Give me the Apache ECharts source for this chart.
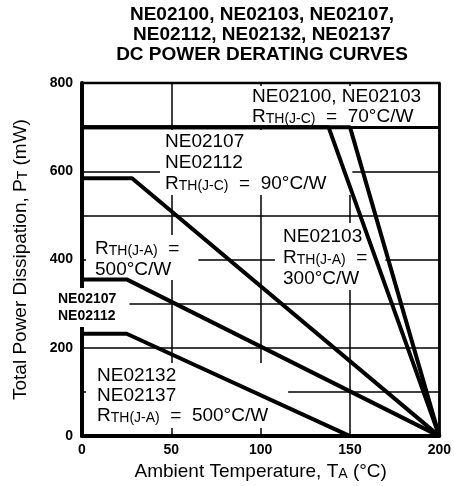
<!DOCTYPE html>
<html>
<head>
<meta charset="UTF-8">
<title>DC Power Derating Curves</title>
<script src="https://cdn.jsdelivr.net/npm/echarts@6/dist/echarts.min.js"></script>
<style>
  html, body { margin: 0; padding: 0; background: #fff; }
  #main { width: 454px; height: 486px; }
</style>
</head>
<body>
<div id="main"></div>
<script>
// breakpoints: [ambient temp (°C), power (mW)]
var ne02100Left  = [[0, 700], [138, 700], [200, 0]];
var ne02100Right = [[0, 700], [150, 700], [200, 0]];
var ne02107Case  = [[0, 584], [28, 584], [200, 0]];
var ne02107Amb   = [[0, 355], [25, 355], [200, 0]];
var ne02132Amb   = [[0, 232], [25, 232], [150, 0]];

var xTicks = [0, 50, 100, 150, 200];
var yTicks = [0, 200, 400, 600, 800];
var titleLines = ['NE02100, NE02103, NE02107,', 'NE02112, NE02132, NE02137', 'DC POWER DERATING CURVES'];

var FONT = '"Liberation Sans", Arial, Helvetica, sans-serif';
var myChart = echarts.init(document.getElementById('main'));

var rich = {
  n: { fontSize: 19, fontFamily: FONT, fill: '#000', verticalAlign: 'bottom' },
  s: { fontSize: 14, fontFamily: FONT, fill: '#000', verticalAlign: 'bottom' },
  b: { fontSize: 14, fontFamily: FONT, fill: '#000', fontWeight: 'bold' }
};

// "RTH(J-x) = ..." with the small caps part
function rth(sub, rest) {
  return '{n|R}{s|TH(' + sub + ')}{n|  =' + (rest ? '  ' + rest : '') + '}';
}

// text block with a white box behind it (breaks the grid like the original)
function note(left, top, lines, lh, pad) {
  return {
    type: 'text', x: left - pad[3], y: top - pad[0], z: 5,
    style: {
      text: lines.join('\n'), rich: rich, fontSize: 19, fontFamily: FONT, fill: '#000',
      lineHeight: lh, backgroundColor: '#fff', padding: pad, align: 'left', verticalAlign: 'top'
    }
  };
}

function curve(name, data) {
  return {
    name: name, type: 'line', data: data, symbol: 'none', z: 10,
    lineStyle: { color: '#000', width: 4 }
  };
}

var series = [
  curve('NE02100', ne02100Left),
  curve('NE02103', ne02100Right),
  curve('NE02107 case', ne02107Case),
  curve('NE02107 ambient', ne02107Amb),
  curve('NE02132 ambient', ne02132Amb)
];
// heavy line along 700 mW
series[0].markLine = {
  silent: true, symbol: 'none', label: { show: false },
  lineStyle: { color: '#000', width: 3, type: 'solid' },
  data: [{ yAxis: 700 }]
};

var option = {
  animation: false,
  backgroundColor: '#fff',
  grid: { left: 82, right: 12, top: 83, bottom: 49, show: true, borderColor: '#000', borderWidth: 2.5 },
  xAxis: {
    type: 'value', min: 0, max: 200, interval: 50,
    axisLine: { lineStyle: { color: '#000', width: 4 } },
    axisTick: { show: false },
    splitLine: { show: true, lineStyle: { color: '#000', width: 1.5 } },
    axisLabel: {
      color: '#000', fontSize: 14, fontWeight: 'bold', fontFamily: FONT, margin: 7,
      formatter: function (v) { return xTicks.indexOf(v) >= 0 ? String(v) : ''; }
    },
    name: '{n|Ambient Temperature, T}{s|A}{n| (°C)}',
    nameLocation: 'middle', nameGap: 22,
    nameTextStyle: {
      color: '#000', fontFamily: FONT, fontSize: 19,
      rich: {
        n: { color: '#000', fontFamily: FONT, fontSize: 19, verticalAlign: 'bottom' },
        s: { color: '#000', fontFamily: FONT, fontSize: 14, verticalAlign: 'bottom' }
      }
    }
  },
  yAxis: {
    type: 'value', min: 0, max: 800, interval: 100,
    axisLine: { lineStyle: { color: '#000', width: 4 } },
    axisTick: { show: false },
    splitLine: { show: true, lineStyle: { color: '#000', width: 1.5 } },
    axisLabel: {
      color: '#000', fontSize: 14, fontWeight: 'bold', fontFamily: FONT, margin: 9,
      formatter: function (v) { return yTicks.indexOf(v) >= 0 ? String(v) : ''; }
    },
    name: '{n|Total Power Dissipation, P}{s|T}{n| (mW)}',
    nameLocation: 'middle', nameGap: 52,
    nameTextStyle: {
      color: '#000', fontFamily: FONT, fontSize: 19,
      rich: {
        n: { color: '#000', fontFamily: FONT, fontSize: 19, verticalAlign: 'bottom' },
        s: { color: '#000', fontFamily: FONT, fontSize: 14, verticalAlign: 'bottom' }
      }
    }
  },
  graphic: { elements: [
    {
      type: 'text', x: 262, y: 5, z: 5,
      style: {
        text: titleLines.join('\n'), fontSize: 19, fontWeight: 'bold', fontFamily: FONT,
        fill: '#000', lineHeight: 20, align: 'center', verticalAlign: 'top'
      }
    },
    note(252, 86, ['{n|NE02100, NE02103}', rth('J-C', '70°C/W')], 20, [0, 16, 0, 6]),
    note(165, 130, ['{n|NE02107}', '{n|NE02112}', rth('J-C', '90°C/W')], 21, [0, 26, 2, 5]),
    note(95, 237, [rth('J-A'), '{n|500°C/W}'], 21, [2, 19, 1, 9]),
    note(283, 225, ['{n|NE02103}', rth('J-A'), '{n|300°C/W}'], 21, [2, 18, 2, 8]),
    note(58, 291, ['{b|NE02107}', '{b|NE02112}'], 17, [3, 13, 2, 3]),
    note(97, 365, ['{n|NE02132}', '{n|NE02137}', rth('J-A', '500°C/W')], 20, [2, 20, 3, 11])
  ] },
  series: series
};

myChart.setOption(option);
</script>
</body>
</html>
